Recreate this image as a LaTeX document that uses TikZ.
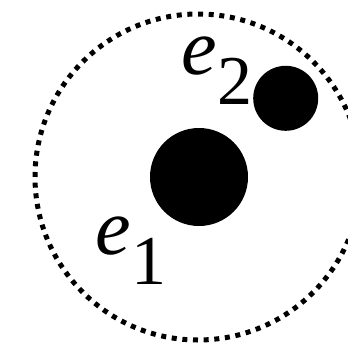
\documentclass[tikz,border=0pt]{standalone}
\usepackage{fontspec}
\setmainfont{Liberation Serif}
\newfontfamily\labfont{Liberation Serif}
\usepackage{tikz}

\newcommand{\elab}[1]{{\labfont\fontsize{80}{80}\selectfont\itshape e}\kern1pt\raisebox{-30pt}{\labfont\fontsize{70}{70}\selectfont #1}}

\begin{document}
\begin{tikzpicture}[
    x=1pt, y=-1pt,
    dotring/.style={draw, line width=5pt, dash pattern=on 5pt off 5.67pt},
    blob/.style={fill=black}
]
\useasboundingbox (0,0) rectangle (348,343);
\clip (0,0) rectangle (348,343);

% --- outer dotted boundary ---
\draw[dotring] (198,177) circle (163);

% --- the two particles ---
\fill[blob] (199,177) circle (49);
\fill[blob] (285.7,98.3) circle (32.5);

% --- labels ---
\node[anchor=base west, inner sep=0pt] (lab2) at (181,74) {\elab{2}};
\node[anchor=base west, inner sep=0pt] (lab1) at (95,254) {\elab{1}};

\end{tikzpicture}
\end{document}
